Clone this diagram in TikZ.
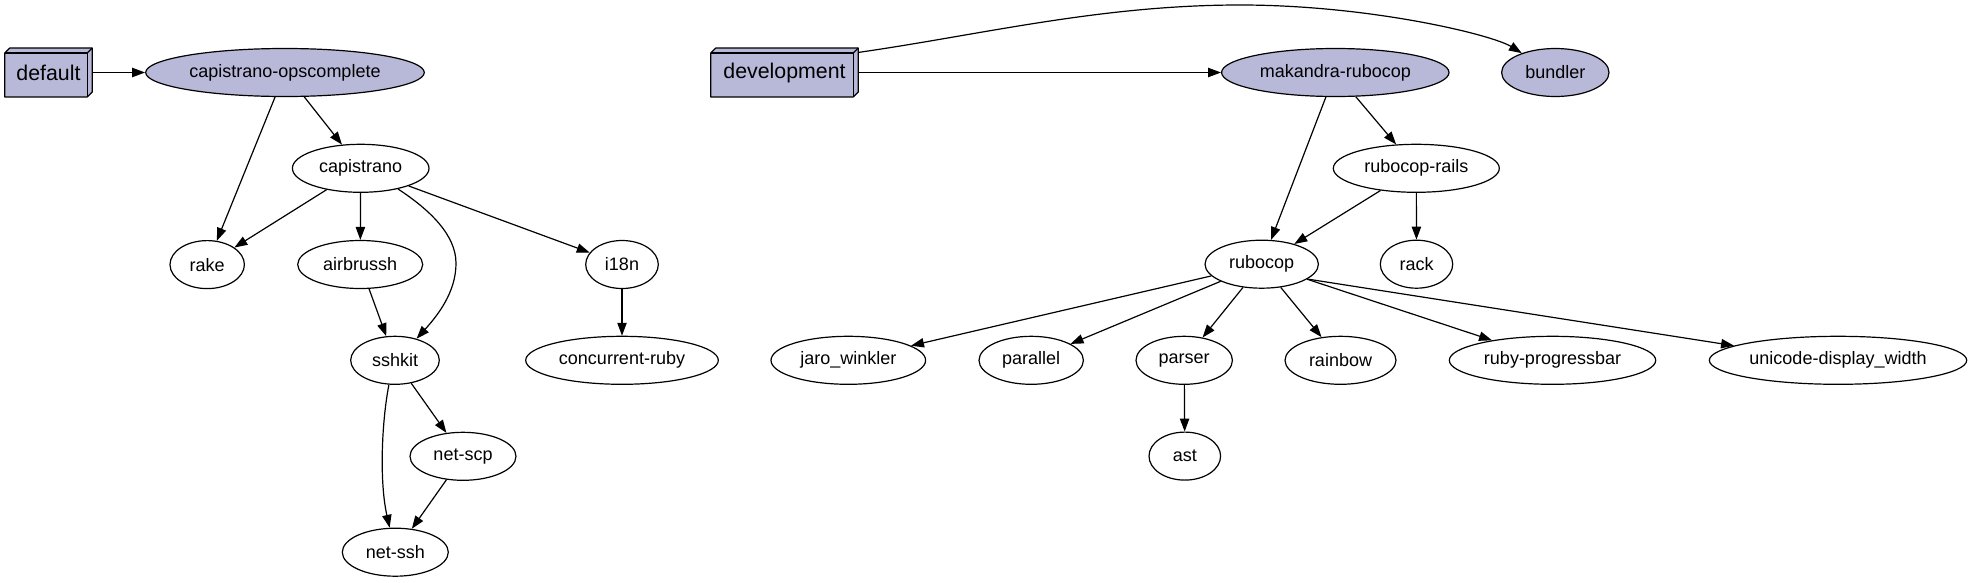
\documentclass[tikz,border=0pt]{standalone}
\usepackage{fontspec}
\setmainfont{Liberation Sans}
\usetikzlibrary{shapes.geometric,arrows.meta,backgrounds}
\definecolor{gemfill}{RGB}{184,184,216}
\tikzset{
  gem/.style 2 args={ellipse, draw, line width=0.9pt, inner sep=0pt,
    minimum width=#1*1.5pt, minimum height=#2*1.5pt,
    font=\fontsize{13.5pt}{16pt}\selectfont},
  root/.style={fill=gemfill},
  grp/.style={rectangle, inner sep=0pt, minimum height=48.4*0.75pt,
    minimum width=#1*0.75pt, font=\fontsize{16pt}{19pt}\selectfont},
  dep/.style={line width=0.9pt, -{Triangle[length=9.7pt,width=7pt]}},
  boxline/.style={line width=0.9pt, line join=round},
}
\newcommand\boxthree[1]{%
  \begin{scope}[on background layer]
    \filldraw[boxline, fill=gemfill] ([yshift=-3.75pt]#1.north west) -- ([xshift=3.75pt]#1.north west)
      -- (#1.north east) -- ([yshift=3.75pt]#1.south east) -- ([xshift=-3.75pt]#1.south east)
      -- (#1.south west) -- cycle;
  \end{scope}
  \draw[boxline] ([yshift=-3.75pt]#1.north west) -- ([xshift=-3.75pt,yshift=-3.75pt]#1.north east)
      -- ([xshift=-3.75pt]#1.south east);
  \draw[boxline] ([xshift=-3.75pt,yshift=-3.75pt]#1.north east) -- (#1.north east);
}
\begin{document}
\begin{tikzpicture}[x=0.75pt,y=-0.75pt]
\useasboundingbox (0,0) rectangle (1972,582);

% group boxes
\node[grp=87] (default) at (48.5,72.5) {default};
\boxthree{default}
\node[grp=147] (development) at (784.5,72.5) {development};
\boxthree{development}

% left cluster
\node[gem={139.3}{24}, root] (opscomplete) at (285,72.5) {capistrano-opscomplete};
\node[gem={68.3}{24}] (capistrano) at (360.7,168.3) {capistrano};
\node[gem={37.2}{24}] (rake) at (207.2,264.6) {rake};
\node[gem={62.5}{24}] (airbrussh) at (360.2,264.5) {airbrussh};
\node[gem={36.3}{24}] (i18n) at (622,264.5) {i18n};
\node[gem={44.3}{24}] (sshkit) at (395,360.3) {sshkit};
\node[gem={96.3}{24}] (concurrent) at (622,360.3) {concurrent-ruby};
\node[gem={53}{24}] (netscp) at (463,456.3) {net-scp};
\node[gem={53}{24}] (netssh) at (395.3,552.2) {net-ssh};

% right cluster
\node[gem={113.7}{24}, root] (makandra) at (1335.3,72.5) {makandra-rubocop};
\node[gem={53.7}{24}, root] (bundler) at (1555.3,72.5) {bundler};
\node[gem={83}{24}] (rails) at (1416.3,168.3) {rubocop-rails};
\node[gem={56.7}{24}] (rubocop) at (1261.7,264.2) {rubocop};
\node[gem={36.2}{24}] (rack) at (1416.5,264.2) {rack};
\node[gem={77.3}{24}] (jaro) at (848.3,360.3) {jaro\_winkler};
\node[gem={52.2}{24}] (parallel) at (1031.2,360.3) {parallel};
\node[gem={48.2}{24}] (parser) at (1184.2,360.3) {parser};
\node[gem={55.5}{24}] (rainbow) at (1340.5,360.3) {rainbow};
\node[gem={103.2}{24}] (progressbar) at (1552.5,360.3) {ruby-progressbar};
\node[gem={128.7}{24}] (unicode) at (1838,360.3) {unicode-display\_width};
\node[gem={35.8}{24}] (ast) at (1184.8,456.1) {ast};

% edges left
\draw[dep] (default) -- (opscomplete);
\draw[dep] (opscomplete) -- (capistrano);
\draw[dep] (opscomplete) -- (rake);
\draw[dep] (capistrano) -- (rake);
\draw[dep] (capistrano) -- (airbrussh);
\draw[dep] (capistrano.-29) .. controls (430,210) and (456,235) .. (456,263.3)
  .. controls (456,292) and (438,315) .. (sshkit.45);
\draw[dep] (capistrano) -- (i18n);
\draw[dep] (airbrussh) -- (sshkit);
\draw[dep] (i18n) -- (concurrent);
\draw[dep] (sshkit) -- (netscp);
\draw[dep] (sshkit.-104) .. controls (382,420) and (379,480) .. (netssh.103);
\draw[dep] (netscp) -- (netssh);

% edges right
\draw[dep] (development) -- (makandra);
\draw[dep] ([yshift=-3.3pt]development.north east) .. controls (980,35) and (1100,5) .. (1240,5)
  .. controls (1370,5) and (1492,34.7) .. (bundler.150);
\draw[dep] (makandra) -- (rubocop);
\draw[dep] (makandra) -- (rails);
\draw[dep] (rails) -- (rubocop);
\draw[dep] (rails) -- (rack);
\draw[dep] (rubocop) -- (jaro);
\draw[dep] (rubocop) -- (parallel);
\draw[dep] (rubocop) -- (parser);
\draw[dep] (rubocop) -- (rainbow);
\draw[dep] (rubocop) -- (progressbar);
\draw[dep] (rubocop.-18) -- (unicode.172);
\draw[dep] (parser) -- (ast);
\end{tikzpicture}
\end{document}
